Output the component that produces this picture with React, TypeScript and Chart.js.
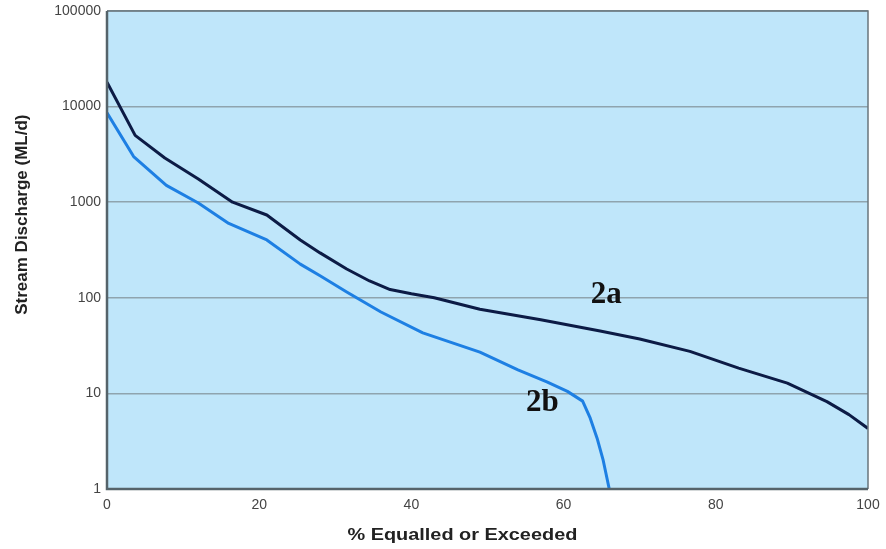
import React, { useEffect, useRef } from "react";
import { Chart, registerables } from "chart.js";

Chart.register(...registerables);

// Curve 2a (dark)
const pctA = [0, 3.7, 7.6, 12, 16.5, 21, 25.4, 28, 31.5, 34.5, 37.2, 40, 43, 49, 57, 64.8, 70, 76.6, 83, 89.4, 94.6, 97.5, 100];
const flowA = [18000, 5000, 2900, 1750, 1000, 735, 403, 295, 200, 150, 122, 110, 100, 76, 59, 45, 37, 27.5, 18.4, 12.8, 8.2, 6.0, 4.3];

// Curve 2b (light)
const pctB = [0, 3.5, 7.8, 12, 16, 21, 25.4, 28, 31.5, 36, 41.5, 49, 54, 57.8, 60.5, 62.5, 63.5, 64.4, 65.2, 66];
const flowB = [8600, 3000, 1500, 980, 600, 403, 225, 170, 115, 71, 43, 27, 17.6, 13.2, 10.5, 8.3, 5.5, 3.4, 2.0, 1];

const yTicks = [1, 10, 100, 1000, 10000, 100000];
const xTicks = [0, 20, 40, 60, 80, 100];

const curveLabels = [
  { text: "2a", x: 65.6, y: 107 },
  { text: "2b", x: 57.2, y: 7.9 },
];

const yTitle = "Stream Discharge (ML/d)";
const xTitle = "% Equalled or Exceeded";

export default function App() {
  const ref = useRef<HTMLCanvasElement | null>(null);

  useEffect(() => {
    if (!ref.current) return;

    const decor = {
      id: "decor",
      beforeDraw(chart: any) {
        const { ctx, chartArea: a } = chart;
        ctx.save();
        ctx.fillStyle = "#bfe6fa";
        ctx.fillRect(a.left, a.top, a.right - a.left, a.bottom - a.top);
        ctx.restore();
      },
      afterDraw(chart: any) {
        const { ctx, chartArea: a, scales } = chart;
        ctx.save();
        // frame
        ctx.strokeStyle = "#6a767c";
        ctx.lineWidth = 1.5;
        ctx.beginPath();
        ctx.moveTo(a.left, a.top);
        ctx.lineTo(a.right, a.top);
        ctx.lineTo(a.right, a.bottom);
        ctx.stroke();
        ctx.strokeStyle = "#55636a";
        ctx.lineWidth = 2.5;
        ctx.beginPath();
        ctx.moveTo(a.left, a.top);
        ctx.lineTo(a.left, a.bottom);
        ctx.lineTo(a.right, a.bottom);
        ctx.stroke();

        // curve labels
        ctx.fillStyle = "#111";
        ctx.font = "bold 31px 'Liberation Serif', 'DejaVu Serif', serif";
        ctx.textAlign = "center";
        ctx.textBaseline = "middle";
        for (const l of curveLabels) {
          ctx.fillText(l.text, scales.x.getPixelForValue(l.x), scales.y.getPixelForValue(l.y));
        }

        // axis titles
        ctx.fillStyle = "#222";
        ctx.font = "bold 17px 'Liberation Sans', Arial, sans-serif";
        ctx.save();
        ctx.translate(22, a.top + (a.bottom - a.top) * 0.426);
        ctx.rotate(-Math.PI / 2);
        ctx.fillText(yTitle, 0, 0);
        ctx.restore();

        ctx.save();
        ctx.translate(a.left + (a.right - a.left) * 0.467, 535);
        ctx.scale(1.17, 1);
        ctx.fillText(xTitle, 0, 0);
        ctx.restore();
        ctx.restore();
      },
    };

    const chart = new Chart(ref.current, {
      type: "line",
      data: {
        datasets: [
          {
            label: "2a",
            data: pctA.map((x, i) => ({ x, y: flowA[i] })),
            borderColor: "#0c1b45",
            borderWidth: 3,
            pointRadius: 0,
            tension: 0,
            borderJoinStyle: "round",
            fill: false,
          },
          {
            label: "2b",
            data: pctB.map((x, i) => ({ x, y: flowB[i] })),
            borderColor: "#1d7fe3",
            borderWidth: 3,
            pointRadius: 0,
            tension: 0,
            borderJoinStyle: "round",
            fill: false,
          },
        ],
      },
      options: {
        animation: false,
        responsive: false,
        maintainAspectRatio: false,
        layout: { padding: { top: 11, right: 18, left: 0, bottom: 0 } },
        plugins: {
          legend: { display: false },
          tooltip: { enabled: false },
        },
        scales: {
          x: {
            type: "linear",
            min: 0,
            max: 100,
            afterBuildTicks(scale: any) {
              scale.ticks = xTicks.map((v) => ({ value: v }));
            },
            afterFit(scale: any) {
              scale.height = 60;
              scale.paddingLeft = 0;
              scale.paddingRight = 0;
            },
            grid: { display: false, drawTicks: false },
            border: { display: false },
            ticks: {
              padding: 8,
              color: "#444",
              font: { family: "'Liberation Sans', Arial, sans-serif", size: 14 },
              maxRotation: 0,
              callback: (v: any) => String(v),
            },
          },
          y: {
            type: "logarithmic",
            min: 1,
            max: 100000,
            afterBuildTicks(scale: any) {
              scale.ticks = yTicks.map((v) => ({ value: v }));
            },
            afterFit(scale: any) {
              scale.width = 107;
              scale.paddingTop = 0;
              scale.paddingBottom = 0;
            },
            grid: { color: "#8fa4ae", lineWidth: 1.5, drawTicks: false },
            border: { display: false },
            ticks: {
              padding: 6,
              color: "#444",
              font: { family: "'Liberation Sans', Arial, sans-serif", size: 14 },
              callback: (v: any) => String(v),
            },
          },
        },
      },
      plugins: [decor],
    });

    return () => chart.destroy();
  }, []);

  return (
    <div style={{ position: "fixed", left: 0, top: 0, width: 886, height: 549, background: "#fff" }}>
      <canvas ref={ref} width={886} height={549} style={{ display: "block" }} />
    </div>
  );
}
